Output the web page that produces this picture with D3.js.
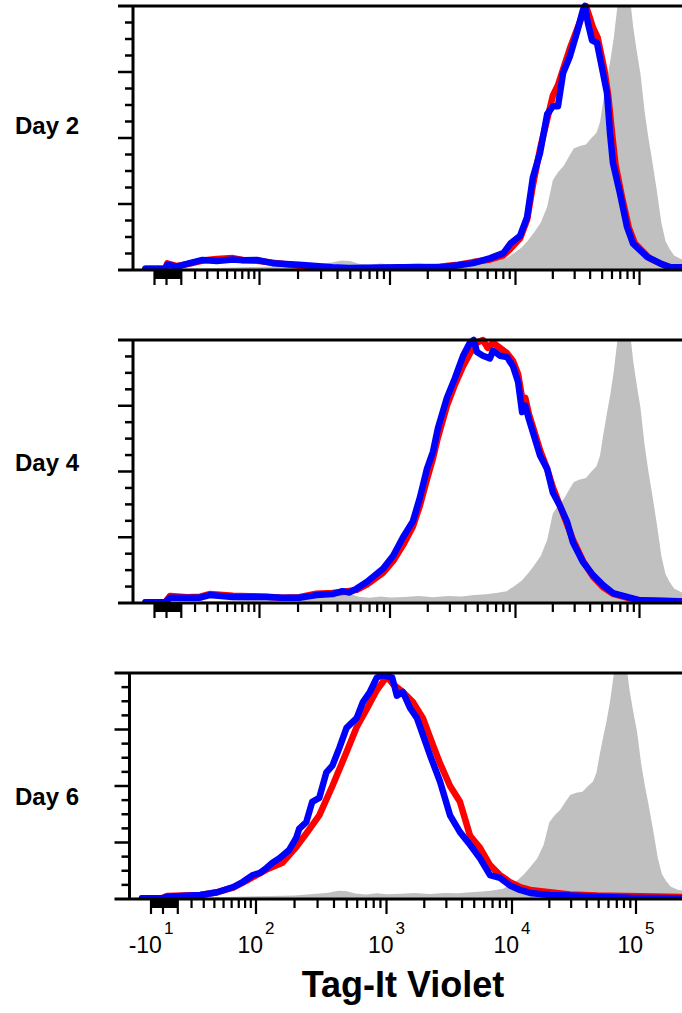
<!DOCTYPE html>
<html>
<head>
<meta charset="utf-8">
<script src="https://cdn.jsdelivr.net/npm/d3@7"></script>
<style>
  body { margin: 0; background: #fff; }
  svg { display: block; }
  text { font-family: "Liberation Sans", Arial, sans-serif; fill: #000; }
</style>
</head>
<body>
<svg id="chart" width="682" height="1013"></svg>
<script>
// ---- data: [Tag-It Violet intensity, % of max] ----
const dayLabels = ['Day 2', 'Day 4', 'Day 6'];

// unstained / undivided control (grey fill), same in every panel
const control = [[-18,0],[-3,0],[3,0.4],[15,0.6],[40,0.8],[80,1.1],[130,1.3],[200,1.6],[280,2.2],[360,2.8],[430,3.6],[500,3.4],[580,2.4],[700,2.0],[850,2.5],[1000,2.1],[1300,2.3],[1700,2.7],[2200,2.2],[2900,2.7],[3700,2.5],[4700,3.0],[5800,3.3],[7000,3.8],[8500,4.5],[9800,6.5],[11200,8.5],[12500,11],[14000,14],[16000,18],[18000,24],[20000,34],[22000,37],[24500,39.5],[27000,43],[29500,46],[33000,47],[37000,47.5],[41000,50],[45000,52],[48000,56],[51000,64],[55000,73],[58000,79],[62000,88],[66000,99],[71000,110],[76000,114],[82000,107],[89000,92],[95000,83],[102000,74],[110000,60],[118000,50],[125000,43],[138000,30],[150000,18],[162000,11],[175000,8],[190000,5.5],[220000,4],[280000,3.5]];

const day2Red = [[-18,0.5],[-1,0.5],[0.5,2.5],[7,1.5],[16,2.4],[26,3.6],[39,4.2],[57,4.5],[71,3.8],[95,3.5],[127,2.8],[204,1.6],[366,0.8],[490,0.6],[1200,0.8],[2500,1.2],[3500,2.0],[4600,3.0],[6300,4.0],[8000,5.5],[9100,8],[10900,12],[12400,19],[13800,32],[15800,46],[18000,57],[20000,66],[22000,70],[24200,76],[27500,84],[31300,91],[35000,97],[37000,100],[39500,96],[42000,92],[46000,88],[52000,76],[56000,66],[60000,52],[64000,40],[72000,28],[82000,16],[92000,10],[120000,4.5],[150000,2.2],[180000,1],[280000,0.8]];
const day2Blue = [[-18,0.5],[-1,0.5],[0.5,2],[7,1.3],[16,2.6],[26,3.8],[39,3.4],[57,4.0],[71,3.7],[95,3.8],[127,2.6],[204,2.0],[366,1.0],[490,0.8],[1200,1.0],[2500,1.0],[3500,1.8],[4600,2.6],[6300,4.5],[8000,6.4],[9100,10],[10900,13],[12400,20],[13800,35],[15800,44.5],[18000,59],[20000,62],[22000,62],[24200,74.6],[27500,81],[31300,90],[35000,98.5],[36300,100],[38400,93.5],[41400,87],[45400,86],[50800,74.6],[54700,67],[57800,52],[61100,40.5],[69600,29],[79300,16.3],[88700,10],[115000,5],[146000,2.6],[176000,1],[280000,1]];

const day4Red = [[-18,0.3],[-1,0.3],[2.3,2.7],[14,2.2],[24,2.4],[32,3.4],[57,2.8],[82,2.6],[114,2.4],[151,2],[204,2.2],[276,3.5],[366,3.8],[436,4.2],[493,4.6],[560,5.0],[667,7],[884,11.5],[1060,16],[1270,22],[1520,29],[1730,37],[1970,47],[2200,55],[2410,63],[2840,75],[3290,83],[3820,90],[4340,95],[4930,99],[5500,100],[6000,97],[6620,99],[7520,97],[8560,95],[9550,92],[10500,87],[11300,78],[12000,78],[12800,72],[13800,67],[15800,58],[18000,51],[20000,44],[22800,37],[26000,30],[29100,24],[35000,16],[42200,10],[50800,6],[61100,3.5],[79300,2],[101000,1],[280000,0.5]];
const day4Blue = [[-18,0.3],[-1,0.3],[2.3,2],[14,2],[24,2],[32,3],[57,2.3],[82,2.3],[114,2.3],[151,2],[204,2],[276,3],[366,3.4],[436,4.5],[493,4],[560,5.5],[667,8],[884,13],[1060,18],[1270,25],[1520,31],[1730,40],[1970,51],[2200,57.5],[2410,66.5],[2840,78],[3290,85.5],[3820,94],[4340,99],[4650,100],[4930,95.4],[5500,94],[6260,93],[6620,96],[7520,94],[8560,93.5],[9550,90],[10500,84],[11300,72.6],[12000,75],[12800,70],[13800,65],[15800,56],[18000,51],[20000,42],[22800,37],[26000,31],[29100,23],[35000,15.6],[42200,10.6],[50800,6.8],[61100,3.8],[79300,2.3],[101000,1],[280000,0.4]];

const day6Red = [[-18,0.3],[-1,0.3],[2.7,1.3],[27,1.8],[43,3],[62,5],[85,8.5],[121,13],[161,16],[206,23],[246,29],[309,37],[389,50],[498,65],[594,76],[707,84],[846,92.5],[1010,98.5],[1130,95],[1350,91.6],[1630,87],[1950,80],[2350,68],[2670,60],[3210,50],[3850,43],[4630,28],[5560,22.6],[6680,15],[8020,10.6],[9640,7.5],[11600,5.3],[14000,4],[20200,3],[29400,2],[48400,1.5],[280000,0.8]];
const day6Blue = [[-18,0.3],[-1,0.3],[2.7,1],[27,1.8],[43,3],[62,5.3],[76,7.5],[94,10.6],[107,11.5],[121,13.7],[135,16],[153,18],[182,21.7],[206,27],[217,31],[246,34],[273,43],[309,44.7],[350,56],[389,59],[440,67],[498,75.7],[594,80],[661,87],[748,91.6],[846,98],[940,99],[1110,98],[1210,90],[1350,91.6],[1540,84.5],[1750,80],[1950,72.6],[2220,63.7],[2670,52],[3210,37],[3850,29.6],[4630,24],[5560,18],[6680,10.6],[8020,9.3],[9640,6],[11600,4],[14000,2.7],[20200,1.8],[29400,1.5],[48400,1],[89600,0.5],[280000,0.3]];

const redSeries = [day2Red, day4Red, day6Red];
const blueSeries = [day2Blue, day4Blue, day6Blue];

// axis ticks
const majorTicks = [-10, 0, 10, 100, 1000, 10000, 100000];
const minorTicks = [-9,-8,-7,-6,-5,-4,-3,-2,-1,1,2,3,4,5,6,7,8,9,
  20,30,40,50,60,70,80,90,200,300,400,500,600,700,800,900,
  2000,3000,4000,5000,6000,7000,8000,9000,20000,30000,40000,50000,60000,70000,80000,90000];
const tickLabels = [[-10, '-10', '1'], [100, '10', '2'], [1000, '10', '3'], [10000, '10', '4'], [100000, '10', '5']];

// ---- layout ----
const panels = [
  {top: 6, bottom: 270, left: 133, shift: 3.5, labelY: 134},
  {top: 340, bottom: 603, left: 133, shift: 3.5, labelY: 471},
  {top: 673, bottom: 899, left: 129.5, shift: 0, labelY: 805}
];

// biexponential-like display transform (FlowJo style)
const biex = v => Math.asinh(v / 35);
const anchorVals = [-10, 0, 100, 1000, 10000, 100000];
const anchorPx = [151, 163, 256, 386.5, 512, 636];

const svg = d3.select('#chart');

panels.forEach((p, i) => {
  const xScale = d3.scaleLinear()
    .domain(anchorVals.map(biex))
    .range(anchorPx.map(d => d + p.shift));
  const x = v => xScale(biex(v));
  const y = d3.scaleLinear().domain([0, 100]).range([p.bottom, p.top]);

  const g = svg.append('g');

  // clip areas
  svg.append('clipPath').attr('id', 'clipFill' + i)
    .append('rect').attr('x', p.left).attr('y', p.top)
    .attr('width', 700 - p.left).attr('height', p.bottom - p.top);
  svg.append('clipPath').attr('id', 'clipLine' + i)
    .append('rect').attr('x', p.left).attr('y', p.top - 4)
    .attr('width', 700 - p.left).attr('height', p.bottom - p.top + 4);

  const area = d3.area().x(d => x(d[0])).y0(p.bottom).y1(d => y(d[1]));
  const line = d3.line().x(d => x(d[0])).y(d => y(d[1]));

  g.append('path').datum(control)
    .attr('clip-path', 'url(#clipFill' + i + ')')
    .attr('fill', '#c0c0c0').attr('d', area);

  [[redSeries[i], '#ff0000'], [blueSeries[i], '#0000ff']].forEach(([data, colour]) => {
    g.append('path').datum(data)
      .attr('clip-path', 'url(#clipLine' + i + ')')
      .attr('fill', 'none').attr('stroke', colour)
      .attr('stroke-width', 6.5).attr('stroke-linejoin', 'round').attr('stroke-linecap', 'round')
      .attr('d', line);
  });

  // frame lines
  const ax = g.append('g').attr('stroke', '#000').attr('fill', 'none');
  ax.append('line').attr('x1', p.left - 15).attr('x2', 700)
    .attr('y1', p.top).attr('y2', p.top).attr('stroke-width', 3);
  ax.append('line').attr('x1', p.left - 15).attr('x2', 700)
    .attr('y1', p.bottom).attr('y2', p.bottom).attr('stroke-width', 3);
  ax.append('line').attr('x1', p.left).attr('x2', p.left)
    .attr('y1', p.top).attr('y2', p.bottom).attr('stroke-width', 3);

  // y ticks: 16 steps, major every 4
  d3.range(1, 16).forEach(k => {
    const yy = p.bottom - (p.bottom - p.top) * k / 16;
    ax.append('line').attr('x1', p.left - (k % 4 === 0 ? 15 : 8)).attr('x2', p.left)
      .attr('y1', yy).attr('y2', yy).attr('stroke-width', 2.5);
  });

  // x ticks
  minorTicks.forEach(v => {
    ax.append('line').attr('x1', x(v)).attr('x2', x(v))
      .attr('y1', p.bottom).attr('y2', p.bottom + 9).attr('stroke-width', 2.2);
  });
  majorTicks.forEach(v => {
    ax.append('line').attr('x1', x(v)).attr('x2', x(v))
      .attr('y1', p.bottom).attr('y2', p.bottom + 15).attr('stroke-width', 2.2);
  });

  // day label
  svg.append('text').attr('x', 15).attr('y', p.labelY)
    .attr('font-size', 24).attr('font-weight', 'bold')
    .text(dayLabels[i]);

  if (i === panels.length - 1) {
    tickLabels.forEach(([v, base, sup]) => {
      const t = svg.append('text').attr('x', x(v)).attr('y', p.bottom + 54)
        .attr('text-anchor', 'middle').attr('font-size', 23);
      t.append('tspan').text(base);
      t.append('tspan').attr('dy', -19).attr('dx', 2).attr('font-size', 17).text(sup);
    });
    svg.append('text').attr('x', 403).attr('y', 997)
      .attr('text-anchor', 'middle').attr('font-size', 36).attr('font-weight', 'bold')
      .text('Tag-It Violet');
  }
});
</script>
</body>
</html>
